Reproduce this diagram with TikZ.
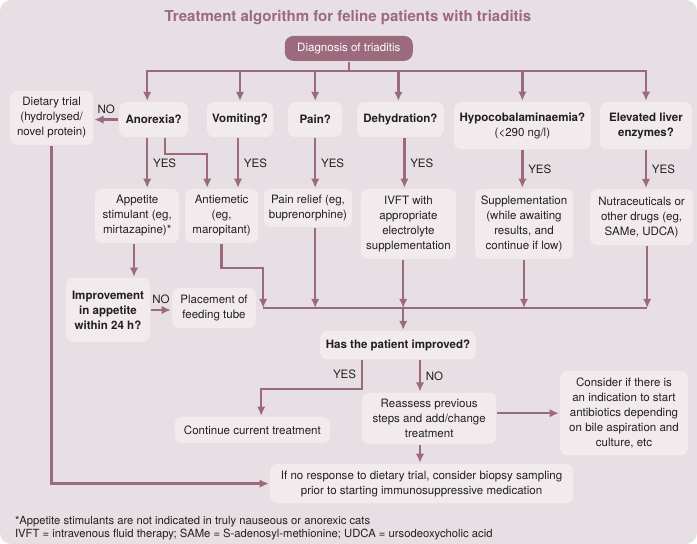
\documentclass[tikz,border=0pt]{standalone}
\usepackage{fontspec}
\setmainfont{TeX Gyre Heros}
\usetikzlibrary{arrows.meta,positioning}
\definecolor{mauve}{RGB}{155,107,125}
\definecolor{panel}{RGB}{231,223,227}
\definecolor{boxcol}{RGB}{242,235,238}
\definecolor{ink}{RGB}{35,31,32}

\begin{document}
\begin{tikzpicture}[>={Latex[length=6.5pt,width=6pt]}, line width=1.7pt,
        font=\fontsize{8.2}{10.7}\selectfont, text=ink,
        box/.style={fill=boxcol, rounded corners=5pt, align=center, inner sep=1pt},
        ask/.style={box, font=\fontsize{8.2}{10.7}\selectfont\bfseries},
        flow/.style={->, draw=mauve}]
        \useasboundingbox (0,0) rectangle (17.425,-13.6);
        \fill[white] (0,0) rectangle (17.425,-13.6);
        \fill[panel, rounded corners=8pt] (0,0) rectangle (17.425,-13.6);
        \node[font=\fontsize{10.7}{13}\selectfont\bfseries, text=mauve]
            (title) at (8.70,-0.43) {Treatment algorithm for feline patients with triaditis};
        \node[fill=mauve, text=white, rounded corners=6pt,
              minimum width=3.2cm, minimum height=0.62cm]
            (diag) at (8.72,-1.21) {Diagnosis of triaditis};
        %% questions
        \node[box, minimum width=2.08cm, minimum height=1.35cm]
            (diet) at (1.29,-2.95) {Dietary trial\\(hydrolysed/\\novel protein)};
        \node[ask, minimum width=1.72cm, minimum height=0.87cm] (anor) at (3.84,-2.99) {Anorexia?};
        \node[ask, minimum width=1.65cm, minimum height=0.87cm] (vomit) at (6.0,-2.99) {Vomiting?};
        \node[ask, minimum width=1.35cm, minimum height=0.87cm] (pain) at (7.88,-2.99) {Pain?};
        \node[ask, minimum width=2.17cm, minimum height=0.87cm] (dehyd) at (10.01,-2.99) {Dehydration?};
        \node[box, minimum width=3.42cm, minimum height=1.18cm]
            (hypo) at (13.06,-3.14) {{\bfseries Hypocobalaminaemia?}\\(<290 ng/l)};
        \node[ask, minimum width=2.3cm, minimum height=1.18cm]
            (liver) at (16.15,-3.14) {Elevated liver\\enzymes?};
        %% treatments
        \node[box, minimum width=2.1cm, minimum height=1.35cm]
            (appet) at (3.43,-5.4) {Appetite\\stimulant (eg,\\mirtazapine)*};
        \node[box, minimum width=1.83cm, minimum height=1.35cm]
            (antiem) at (5.54,-5.4) {Antiemetic\\(eg,\\maropitant)};
        \node[box, minimum width=2.2cm, minimum height=0.95cm]
            (painrel) at (7.7,-5.2) {Pain relief (eg,\\buprenorphine)};
        \node[box, minimum width=2.38cm, minimum height=1.75cm]
            (ivft) at (10.21,-5.6) {IVFT with\\appropriate\\electrolyte\\supplementation};
        \node[box, minimum width=2.45cm, minimum height=1.75cm]
            (suppl) at (13.1,-5.6) {Supplementation\\(while awaiting\\results, and\\continue if low)};
        \node[box, minimum width=2.58cm, minimum height=1.4cm]
            (nutra) at (16.04,-5.43) {Nutraceuticals or\\other drugs (eg,\\SAMe, UDCA)};
        %% follow-up
        \node[ask, minimum width=2.1cm, minimum height=1.6cm]
            (improv) at (2.7,-7.75) {Improvement\\in appetite\\within 24 h?};
        \node[box, minimum width=2.1cm, minimum height=1.0cm]
            (feed) at (5.35,-7.7) {Placement of\\feeding tube};
        \node[ask, minimum width=3.9cm, minimum height=0.7cm]
            (better) at (9.95,-8.63) {Has the patient improved?};
        \node[box, minimum width=3.88cm, minimum height=0.65cm]
            (cont) at (6.31,-10.75) {Continue current treatment};
        \node[box, minimum width=3.35cm, minimum height=1.28cm]
            (reass) at (10.73,-10.46) {Reassess previous\\steps and add/change\\treatment};
        \node[box, minimum width=3.2cm, minimum height=2.1cm]
            (consid) at (15.6,-10.33) {Consider if there is\\an indication to start\\antibiotics depending\\on bile aspiration and\\culture, etc};
        \node[box, minimum width=7.58cm, minimum height=0.98cm]
            (biopsy) at (10.54,-12.09) {If no response to dietary trial, consider biopsy sampling\\prior to starting immunosuppressive medication};
        \node[anchor=west, align=left, font=\fontsize{8.0}{9.3}\selectfont]
            (notes) at (0.23,-13.2) {*Appetite stimulants are not indicated in truly nauseous or anorexic cats\\IVFT = intravenous fluid therapy; SAMe = S-adenosyl-methionine; UDCA = ursodeoxycholic acid};
        \coordinate (cl) at (6.58,-7.7);
        \coordinate (cr) at (16.18,-7.7);
        \coordinate (merge) at (10.08,-7.7);
        %% from diagnosis
        \draw[mauve] (diag.south) -- ++(0,-0.23) coordinate (bus);
        \draw[flow] (bus) -| ([xshift=-0.16cm]anor.north);
        \draw[flow] (bus) -| (liver.north);
        \draw[flow] (bus -| vomit) -- (vomit.north);
        \draw[flow] (bus -| pain) -- (pain.north);
        \draw[flow] ([xshift=-0.05cm]bus -| dehyd) -- ([xshift=-0.05cm]dehyd.north);
        \draw[flow] (bus -| hypo) -- (hypo.north);
        %% YES / NO branches
        \draw[flow] (anor.west) -- (anor.west -| diet.east) node[midway, above]{NO};
        \draw[flow] ([xshift=-0.16cm]anor.south) -- ([xshift=-0.16cm]anor.south |- appet.north)
            node[midway, right]{YES};
        \draw[flow] ([xshift=0.29cm]anor.south) -- ++(0,-0.4) -| ([xshift=-0.36cm]antiem.north);
        \draw[flow] ([xshift=-0.05cm]vomit.south) -- ([xshift=-0.05cm]vomit.south |- antiem.north)
            node[midway, right]{YES};
        \draw[flow] (pain.south) -- (pain.south |- painrel.north) node[midway, right]{YES};
        \draw[flow] ([xshift=0.1cm]dehyd.south) -- ([xshift=0.1cm]dehyd.south |- ivft.north)
            node[midway, right]{YES};
        \draw[flow] (hypo.south) -- (hypo.south |- suppl.north) node[midway, right]{YES};
        \draw[flow] (liver.south) -- (liver.south |- nutra.north) node[midway, right]{YES};
        %% collecting line
        \draw[mauve] (cl) -- (cr);
        \draw[flow] (antiem.south) -- ++(0,-0.6) -| (cl);
        \draw[flow] (pain.south |- painrel.south) -- (pain.south |- cl);
        \draw[flow] (merge |- ivft.south) -- (merge);
        \draw[flow] (suppl.south) -- (suppl.south |- cl);
        \draw[flow] (cr |- nutra.south) -- (cr);
        \draw[flow] (merge) -- (merge |- better.north);
        %% appetite
        \draw[flow] ([xshift=-0.08cm]appet.south) -- ([xshift=-0.08cm]appet.south |- improv.north);
        \draw[flow] (improv.east) -- (improv.east -| feed.west) node[midway, above]{NO};
        %% outcome
        \draw[flow] ([xshift=-0.9cm]better.south) -- ++(0,-0.72) node[midway, left]{YES}
            -| ([xshift=0.22cm]cont.north);
        \draw[flow] ([xshift=0.55cm]better.south) -- ([xshift=0.55cm]better.south |- reass.north)
            node[midway, right]{NO};
        \draw[flow] (consid -| reass.east) -- (consid.west);
        \draw[flow] ([xshift=-0.23cm]reass.south) -- ([xshift=-0.23cm]reass.south |- biopsy.north);
        \draw[flow] (diet.south) |- (biopsy.west);
    \end{tikzpicture}
\end{document}
